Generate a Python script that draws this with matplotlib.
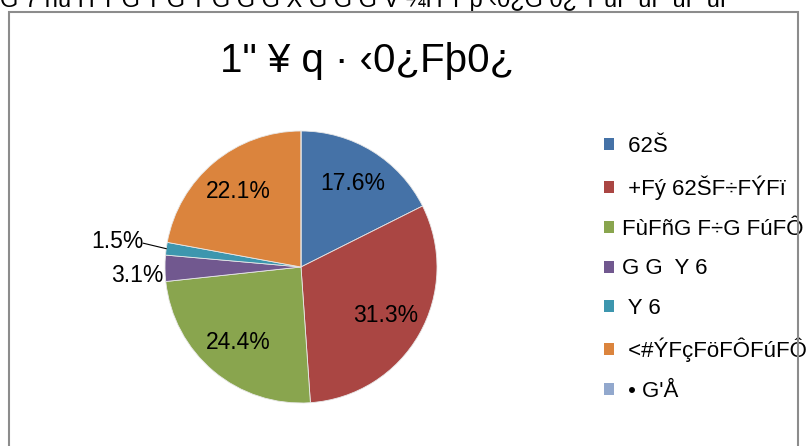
import matplotlib
matplotlib.use("Agg")
import matplotlib.pyplot as plt
from matplotlib.patches import Rectangle, Patch
import numpy as np

plt.rcParams['font.family'] = ['Liberation Sans', 'DejaVu Sans']

top_text = "G 7 ńú H T G T G T G G G X G G G V ¼H T þ ‹0¿G 0¿ T úF úF úF úF"
title = '1" ¥ q · ‹0¿Fþ0¿'
categories = [" 62Š", " +Fý 62ŠF÷FÝFï", "FùFñG F÷G FúFÔ", "G G  Y 6", " Y 6",
              " <#ÝFçFöFÔFúFÔ", " • G'Å"]
values = [17.6, 31.3, 24.4, 3.1, 1.5, 22.1, 0.0]
colors = ["#4572A7", "#AA4643", "#89A54E", "#71588F", "#3D96AE", "#DB843D", "#92A8CD"]

W, H = 808, 446
fig = plt.figure(figsize=(W / 100, H / 100), dpi=100)

cx, cy, r = 301, 267, 136
ax = fig.add_axes([(cx - r) / W, (H - cy - r) / H, 2 * r / W, 2 * r / H])

wedges, _ = ax.pie(values, colors=colors, startangle=90, counterclock=False,
                   radius=1.0, wedgeprops=dict(edgecolor="#e8e8e8", linewidth=0.6))
ax.set_xlim(-1, 1)
ax.set_ylim(-1, 1)
ax.set_aspect('equal')
ax.axis('off')

for w, v in zip(wedges, values):
    if v <= 0:
        continue
    mid = np.deg2rad((w.theta1 + w.theta2) / 2)
    lbl = f"{v:.1f}%"
    if v >= 10:
        d = 0.72
        ax.text(d * np.cos(mid), d * np.sin(mid), lbl, ha='center', va='center',
                fontsize=16.5, color='black')
    elif v >= 2.5:
        ax.text(-1.01, np.sin(mid) - 0.05, lbl, ha='right', va='center',
                fontsize=16.5, color='black', clip_on=False)
    else:
        ex, ey = np.cos(mid), np.sin(mid)
        ax.plot([-1.16, ex], [0.175, ey], color='black', lw=0.8, clip_on=False)
        ax.text(-1.16, 0.19, lbl, ha='right', va='center', fontsize=16.5,
                color='black', clip_on=False)

handles = [Patch(facecolor=c, edgecolor='none') for c in colors]
fig.legend(handles, categories, loc='upper left',
           bbox_to_anchor=(604 / W, 1 - 136 / H), frameon=False,
           fontsize=16, handlelength=0.45, handleheight=0.45,
           handletextpad=0.36, labelspacing=0.84, borderpad=0, borderaxespad=0)

fig.text(367 / W, 1 - 61 / H, title, ha='center', va='center',
         fontsize=29, color='black')

fig.text(0 / W, 1 - 7 / H, top_text, ha='left', va='baseline', fontsize=17,
         color='black')

frame = Rectangle((9 / W, -0.1), (798 - 9) / W, 1.1 - 12 / H, transform=fig.transFigure,
                  fill=False, edgecolor='#8c8c8c', linewidth=1.5, zorder=10)
fig.add_artist(frame)

fig.savefig("out.png", dpi=100, facecolor='white')
